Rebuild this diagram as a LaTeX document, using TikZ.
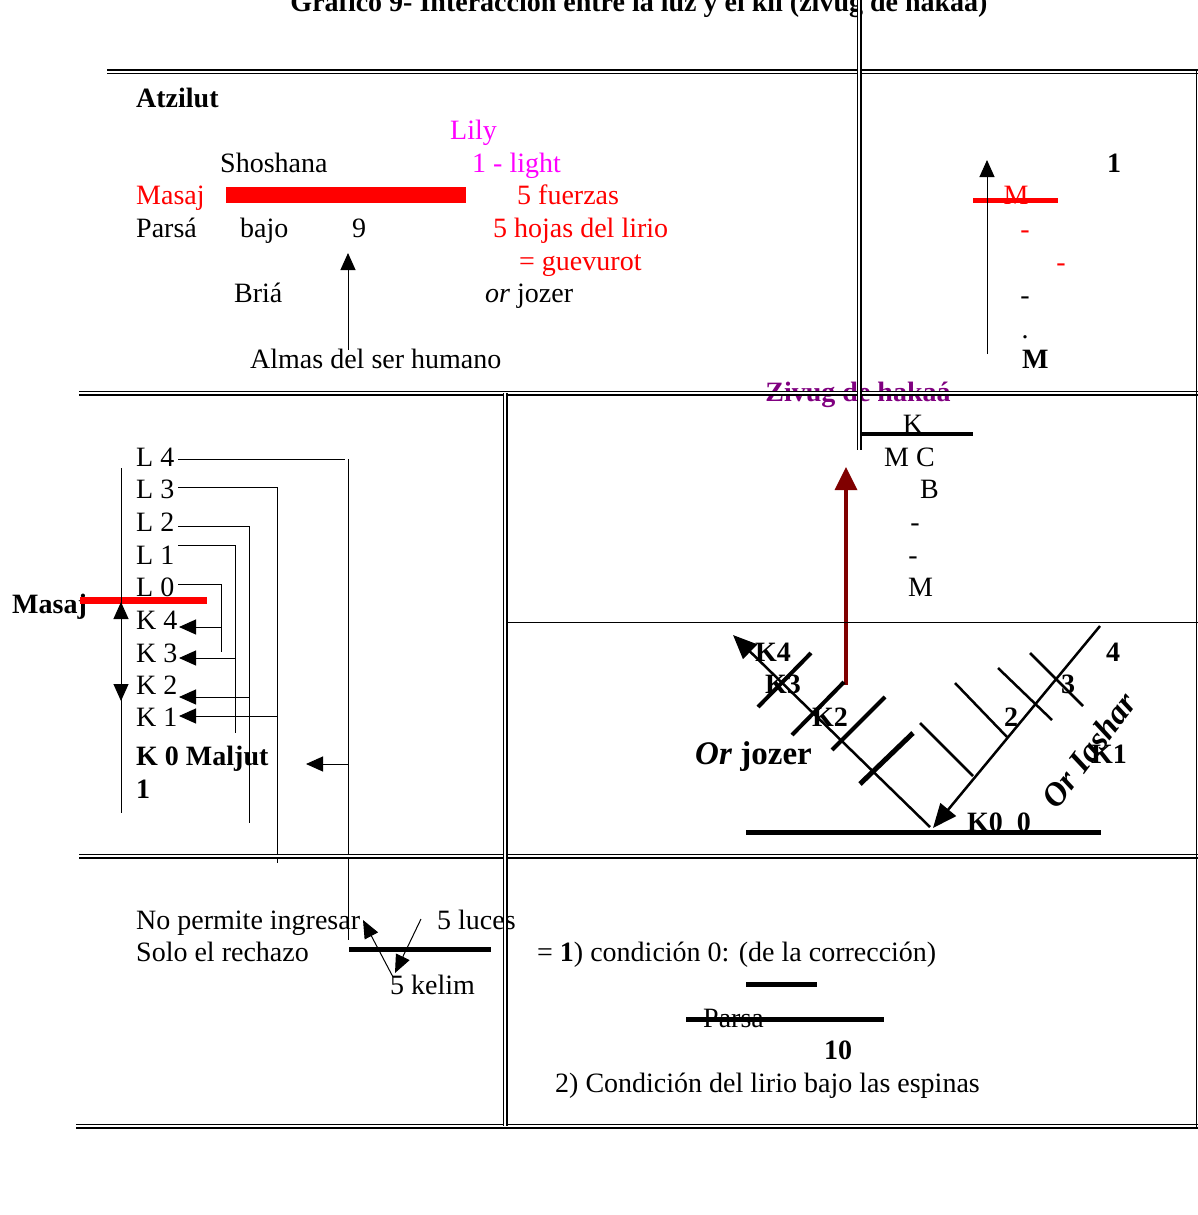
\documentclass[tikz,border=0pt]{standalone}
\usepackage{fontspec}
\setmainfont{Liberation Serif}
\usetikzlibrary{arrows.meta}
\definecolor{lilymag}{RGB}{255,0,255}
\definecolor{zivpurple}{RGB}{128,0,128}
\definecolor{arrowred}{RGB}{128,0,0}
\tikzset{
  txt/.style={anchor=base west, inner sep=0pt, font=\fontsize{28}{34}\selectfont},
  btxt/.style={anchor=base west, inner sep=0pt, font=\fontsize{28}{34}\selectfont\bfseries},
  dbl/.style={draw=black, line width=1.5pt, double=white, double distance=2pt},
  arr/.style={-{Triangle[length=17pt,width=15pt]}, line width=1pt},
  tick/.style={line width=4pt},
  thinTick/.style={line width=2.5pt},
  bar/.style={line width=5pt}
}
\begin{document}
\begin{tikzpicture}[x=1pt,y=-1pt]
\useasboundingbox (0,0) rectangle (1198,1215);
\fill[white] (0,0) rectangle (1198,1215);

% ---------- title ----------
\node[btxt, anchor=base] (title) at (639,12) {Gráfico 9- Interacción entre la luz y el kli (zivug de hakaá)};

% ---------- top section ----------
\node[btxt] (atz) at (136,107) {Atzilut};
\node[txt, text=lilymag] (lily) at (450,139) {Lily};
\node[txt] (shosh) at (220,172) {Shoshana};
\node[txt, text=lilymag] (light) at (472,172) {1 - light};
\node[txt, text=red] (masajT) at (136,204) {Masaj};
\node[txt, text=red] (fuerzas) at (517,204) {5 fuerzas};
\node[txt] (parsa) at (136,237) {Parsá};
\node[txt] (bajo) at (240,237) {bajo};
\node[txt] (nine) at (352,237) {9};
\node[txt, text=red] (hojas) at (493,237) {5 hojas del lirio};
\node[txt, text=red] (guev) at (519,270) {= guevurot};
\node[txt] (bria) at (234,302) {Briá};
\node[txt] (orjT) at (485,302) {\textit{or} jozer};
\node[txt] (almas) at (250,368) {Almas del ser humano};
\fill[red] (226,187) rectangle (466,203);
\coordinate (almasTop) at (348,350);
\coordinate (nineBot) at (348,253);
\draw[arr] (almasTop) -- (nineBot);

% top right
\node[txt, text=red, anchor=base] (mRed) at (1016,204) {M};
\draw[red, line width=5pt] (973,200) -- (1058,200);
\node[txt, text=red, anchor=base] (d1) at (1025,238) {-};
\node[txt, text=red, anchor=base] (d2) at (1061,271) {-};
\node[txt, anchor=base] (d3) at (1025,304) {-};
\node[txt, anchor=base] (d4) at (1025,338) {.};
\node[btxt] (mBot) at (1022,368) {M};
\node[btxt] (one) at (1107,172) {1};
\coordinate (upB) at (987,354);
\coordinate (upT) at (987,160);
\draw[arr] (upB) -- (upT);

% ---------- middle left ----------
\node[txt] (L4) at (136,466) {L 4};
\node[txt] (L3) at (136,498) {L 3};
\node[txt] (L2) at (136,531) {L 2};
\node[txt] (L1) at (136,564) {L 1};
\node[txt] (L0) at (136,596) {L 0};
\node[txt] (K4) at (136,629) {K 4};
\node[txt] (K3) at (136,662) {K 3};
\node[txt] (K2) at (136,694) {K 2};
\node[txt] (K1) at (136,726) {K 1};
\node[btxt] (K0) at (136,765) {K 0 Maljut};
\node[btxt] (K0b) at (136,798) {1};
\node[btxt] (masajL) at (12,613) {Masaj};
\draw[red, line width=7pt] (80,600) -- (207,600);

\coordinate (vA) at (121,468);
\coordinate (vB) at (121,813);
\draw[line width=1pt] (vA) -- (vB);
\coordinate (vM) at (121,651);
\draw[arr] (vM) -- (121,602);
\draw[arr] (vM) -- (121,701);

\draw[line width=1pt] (178,459) -- (345,459);
\draw[line width=1pt] (348,459) -- (348,940);
\draw[arr] (348,764) -- (306,764);

\draw[line width=1pt] (178,487) -- (277,487) -- (277,863);
\draw[arr] (277,716) -- (179,716);

\draw[line width=1pt] (178,526) -- (249,526) -- (249,823);
\draw[arr] (249,697) -- (179,697);

\draw[line width=1pt] (178,545) -- (235,545) -- (235,733);
\draw[arr] (235,658) -- (179,658);

\draw[line width=1pt] (178,584) -- (221,584) -- (221,652);
\draw[arr] (221,627) -- (179,627);

% ---------- middle right ----------
\node[btxt, anchor=base, text=zivpurple] (ziv) at (858,401) {Zivug de hakaá};
\node[txt, anchor=base] (kk) at (913,433) {K};
\node[txt] (mc) at (884,466) {M C};
\node[txt] (bb) at (920,498) {B};
\node[txt, anchor=base] (e1) at (915,531) {-};
\node[txt, anchor=base] (e2) at (913,564) {-};
\node[txt] (mm) at (908,596) {M};
\draw[line width=3.5pt] (860,434) -- (973,434);

\coordinate (redB) at (846,685);
\coordinate (redT) at (846,467);
\draw[arrowred, line width=3.5pt, -{Triangle[length=23pt,width=22pt]}] (redB) -- (redT);

% labels
\node[btxt] (k4l) at (755,661) {K4};
\node[btxt] (k3l) at (765,693) {K3};
\node[btxt] (k2l) at (812,726) {K2};
\node[anchor=base west, inner sep=0pt, font=\fontsize{33}{38}\selectfont\bfseries] (orj) at (695,764) {\textit{Or} jozer};
\node[btxt] (k0l) at (967,831) {K0\ \ 0};
\node[btxt] (n2) at (1004,726) {2};
\node[btxt] (n3) at (1061,693) {3};
\node[btxt] (n4) at (1106,661) {4};
\node[btxt] (k1l) at (1091,763) {K1};
\node[inner sep=0pt, font=\fontsize{33}{38}\selectfont\bfseries\itshape, rotate=53] (oria) at (1089,750) {Or Iashar};

% rays
\coordinate (jzS) at (930,827);
\coordinate (jzE) at (733,635);
\draw[line width=2.5pt, -{Triangle[length=24pt,width=20pt]}] (jzS) -- (jzE);
\coordinate (iaS) at (1100,626);
\coordinate (iaE) at (933,828);
\draw[line width=2.5pt, -{Triangle[length=24pt,width=20pt]}] (iaS) -- (iaE);
\draw[line width=5pt] (746,832) -- (1101,832);

\draw[tick] (758,707) -- (811,653);
\draw[tick] (792,735) -- (844,682);
\draw[tick] (832,750) -- (885,697);
\draw[line width=5pt] (860,784) -- (913,733);

\draw[thinTick] (920,723) -- (973,776);
\draw[thinTick] (955,683) -- (1007,737);
\draw[thinTick] (998,668) -- (1052,720);
\draw[thinTick] (1030,653) -- (1083,706);

% ---------- bottom left ----------
\node[txt] (nop) at (136,929) {No permite ingresar};
\node[txt] (solo) at (136,961) {Solo el rechazo};
\node[txt] (luces) at (437,929) {5 luces};
\node[txt] (kelim) at (390,994) {5 kelim};
\draw[bar] (349,949) -- (491,949);
\draw[line width=1pt, -{Triangle[length=18pt,width=15pt]}] (393,977) -- (363,920);
\draw[line width=1pt, -{Triangle[length=18pt,width=15pt]}] (421,919) -- (395,973);

% ---------- bottom right ----------
\node[txt] (cond1) at (537,961) {= \textbf{1}) condición 0: (de la corrección)};
\draw[bar] (746,984) -- (817,984);
\node[txt] (parsa2) at (703,1027) {Parsa};
\draw[bar] (686,1019) -- (884,1019);
\node[btxt, anchor=base] (ten) at (838,1059) {10};
\node[txt] (cond2) at (555,1092) {2) Condición del lirio bajo las espinas};

% ---------- frame lines ----------
\draw[dbl] (107,72) -- (1198,72);
\draw[dbl] (79,393) -- (1198,393);
\draw[dbl] (79,856) -- (1198,856);
\draw[dbl] (76,1126) -- (1198,1126);
\draw[line width=1pt] (505,622) -- (1198,622);
\draw[line width=1.5pt] (1196.5,70) -- (1196.5,1128);
\draw[dbl] (505,393) -- (505,1126);
\draw[dbl] (859,0) -- (859,450);
\end{tikzpicture}
\end{document}
